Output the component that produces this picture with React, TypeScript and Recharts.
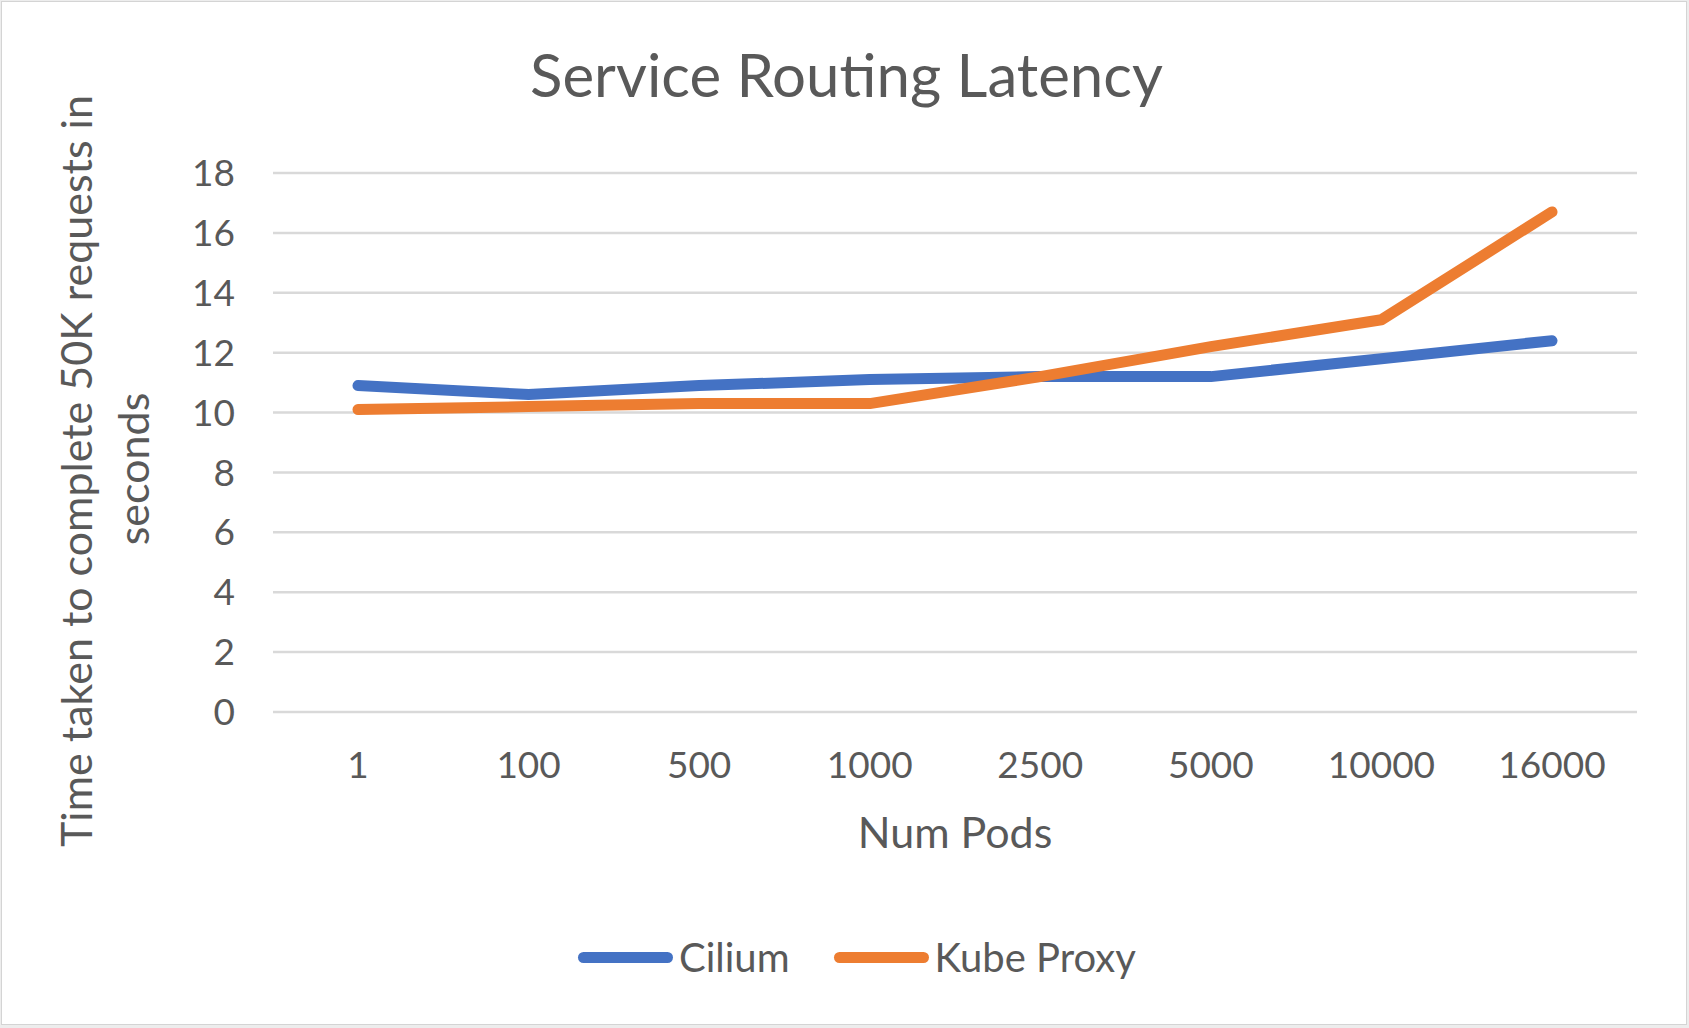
import React from "react";
import { LineChart, Line, XAxis, YAxis, CartesianGrid, Legend } from "recharts";

const pods = ["1", "100", "500", "1000", "2500", "5000", "10000", "16000"];
const cilium = [10.9, 10.6, 10.9, 11.1, 11.2, 11.2, 11.8, 12.4];
const kubeProxy = [10.1, 10.2, 10.3, 10.3, 11.2, 12.2, 13.1, 16.7];
const yTicks = [0, 2, 4, 6, 8, 10, 12, 14, 16, 18];

const data = pods.map((p, i) => ({ pods: p, Cilium: cilium[i], "Kube Proxy": kubeProxy[i] }));

const FONT = "Lato, 'Open Sans', sans-serif";
const TEXT = "#595959";
const W = 1689;
const H = 1028;

const tickStyle = { fill: TEXT, fontSize: 37, fontFamily: FONT };

function renderXTitle(props: any) {
  const vb = props.viewBox || {};
  const cx = (vb.x ?? 273) + (vb.width ?? 1364) / 2;
  return (
    <text x={cx} y={848} textAnchor="middle" fill={TEXT} fontSize={43} fontFamily={FONT}>
      Num Pods
    </text>
  );
}

function renderYTitle() {
  return (
    <g fill={TEXT} fontSize={43} fontFamily={FONT}>
      <text x={75} y={471} transform="rotate(-90, 75, 471)" textAnchor="middle" dominantBaseline="central">
        Time taken to complete 50K requests in
      </text>
      <text x={132} y={469} transform="rotate(-90, 132, 469)" textAnchor="middle" dominantBaseline="central">
        seconds
      </text>
    </g>
  );
}

function renderLegend(props: any) {
  const items = props.payload || [];
  return (
    <div style={{ display: "flex", alignItems: "center" }}>
      {items.map((it: any) => (
        <div key={it.value} style={{ display: "flex", alignItems: "center", marginRight: 44 }}>
          <span
            style={{
              display: "inline-block",
              width: 95,
              height: 11,
              borderRadius: 6,
              background: it.color,
            }}
          />
          <span
            style={{
              marginLeft: 6,
              fontSize: 40,
              fontFamily: FONT,
              color: TEXT,
              lineHeight: "48px",
            }}
          >
            {it.value}
          </span>
        </div>
      ))}
    </div>
  );
}

export default function App() {
  return (
    <div style={{ position: "absolute", left: 0, top: 0, width: W, height: H, background: "#ededed" }}>
      <div
        style={{
          position: "absolute",
          left: 1,
          top: 1,
          width: W - 3,
          height: H - 4,
          background: "#fff",
          border: "1px solid #d4d4d4",
          boxSizing: "border-box",
        }}
      />
      <div
        style={{
          position: "absolute",
          left: 2,
          top: 38,
          width: W,
          textAlign: "center",
          fontFamily: FONT,
          fontSize: 60,
          color: TEXT,
        }}
      >
        Service Routing Latency
      </div>
      <div style={{ position: "absolute", left: 0, top: 0 }}>
        <LineChart width={W} height={H} data={data} margin={{ top: 173, right: 52, bottom: 0, left: 0 }}>
          <CartesianGrid vertical={false} stroke="#d9d9d9" strokeWidth={2.5} />
          <XAxis
            dataKey="pods"
            height={316}
            padding={{ left: 85, right: 85 }}
            axisLine={false}
            tickLine={false}
            tickSize={0}
            tickMargin={40}
            interval={0}
            tick={tickStyle}
            label={renderXTitle}
          />
          <YAxis
            width={273}
            domain={[0, 18]}
            ticks={yTicks}
            axisLine={false}
            tickLine={false}
            tickSize={0}
            tickMargin={38}
            tick={tickStyle}
            label={renderYTitle}
          />
          <Legend
            layout="horizontal"
            verticalAlign="middle"
            align="center"
            wrapperStyle={{ left: 578, top: 933, width: "auto", height: "auto" }}
            content={renderLegend}
          />
          <Line
            type="linear"
            dataKey="Cilium"
            stroke="#4472C4"
            strokeWidth={11}
            strokeLinecap="round"
            strokeLinejoin="round"
            dot={false}
            activeDot={false}
            isAnimationActive={false}
          />
          <Line
            type="linear"
            dataKey="Kube Proxy"
            stroke="#ED7D31"
            strokeWidth={11}
            strokeLinecap="round"
            strokeLinejoin="round"
            dot={false}
            activeDot={false}
            isAnimationActive={false}
          />
        </LineChart>
      </div>
    </div>
  );
}
